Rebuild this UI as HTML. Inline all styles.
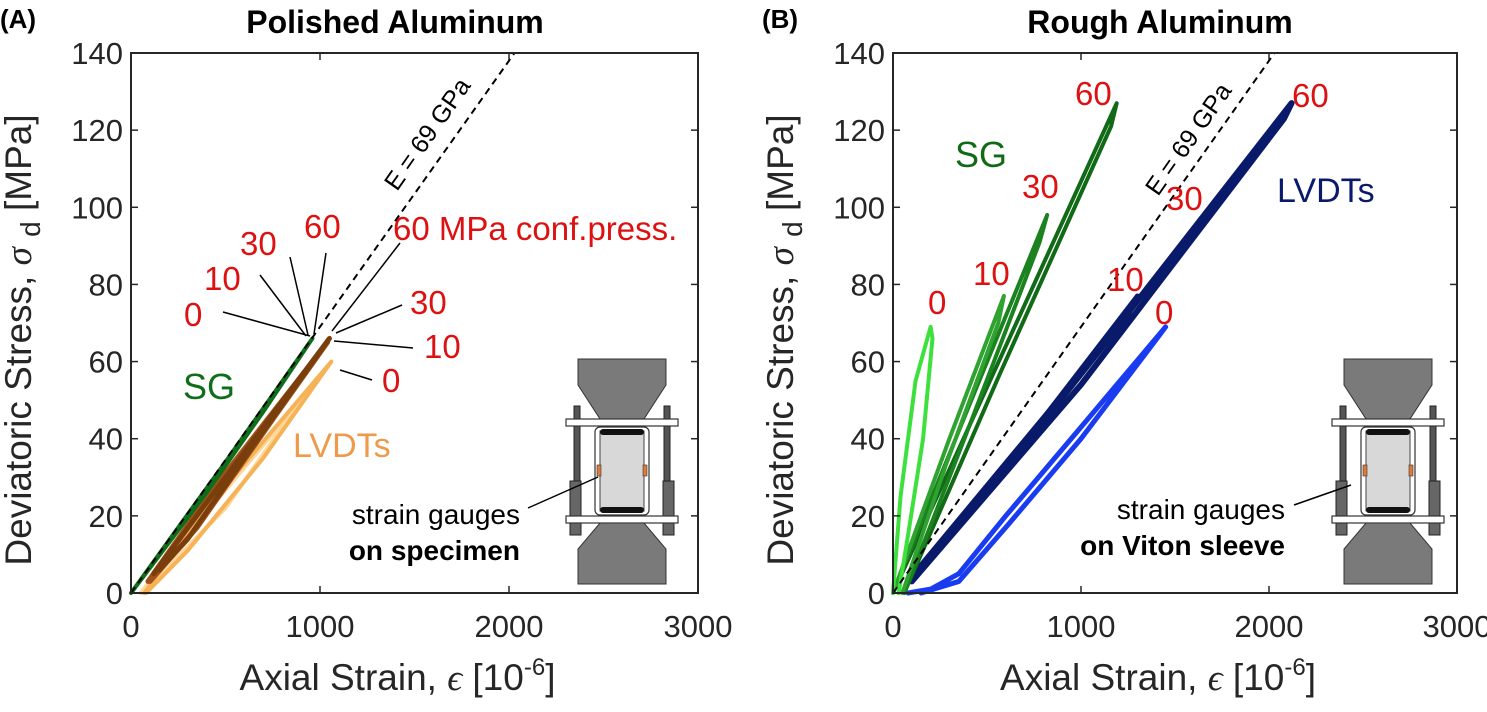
<!DOCTYPE html>
<html><head><meta charset="utf-8"><style>
body{margin:0;background:#fff}
svg{display:block;font-family:"Liberation Sans",Arial,sans-serif}
</style></head><body>
<svg id="fig" width="1487" height="712" viewBox="0 0 1487 712">
<defs>
<g id="rig">
<polygon points="12,0 100,0 100,26 78,60 34,60 12,26" fill="#7a7a7a" stroke="#333" stroke-width="1"/>
<rect x="8" y="47" width="6" height="125" fill="#555" stroke="#222"/>
<rect x="98" y="47" width="6" height="125" fill="#555" stroke="#222"/>
<rect x="4" y="122" width="11" height="54" fill="#666" stroke="#222"/>
<rect x="97" y="122" width="11" height="54" fill="#666" stroke="#222"/>
<rect x="0" y="60" width="112" height="7" fill="#fff" stroke="#333" stroke-width="1.2"/>
<rect x="0" y="157" width="112" height="7" fill="#fff" stroke="#333" stroke-width="1.2"/>
<rect x="29" y="68" width="54" height="88" rx="5" fill="#fff" stroke="#333" stroke-width="1.2"/>
<rect x="34" y="72" width="44" height="80" fill="#d8d8d8" stroke="#444"/>
<rect x="34" y="70" width="44" height="6" rx="3" fill="#111"/>
<rect x="34" y="148" width="44" height="6" rx="3" fill="#111"/>
<rect x="31" y="106" width="4" height="11" fill="#e07a3a" stroke="#333" stroke-width="0.6"/>
<rect x="77" y="106" width="4" height="11" fill="#e07a3a" stroke="#333" stroke-width="0.6"/>
<polygon points="34,164 78,164 100,190 100,225 12,225 12,190" fill="#7a7a7a" stroke="#333" stroke-width="1"/>
</g>
</defs>
<g id="pA"></g>
<g id="pB"></g>
</svg>
<script>
const xTicks=[0,1000,2000,3000];
const yTicks=[0,20,40,60,80,100,120,140];
const aSG=[[0,0],[250,17],[500,34],[960,66],[700,47],[400,26],[0,0]];
const aBrown1=[[120,5],[500,30],[1050,66],[700,42],[300,14],[150,6]];
const aBrown2=[[90,3],[450,28],[1040,65],[750,45],[350,17],[100,3]];
const aOrange1=[[70,0],[400,22],[1060,60],[700,35],[300,11],[80,0]];
const aOrange2=[[50,0],[350,18],[900,50],[500,22],[60,0]];
const bSG0=[[0,0],[40,25],[120,55],[200,69],[210,66],[160,40],[80,15],[30,0]];
const bSG10=[[0,0],[300,40],[590,77],[560,70],[280,33],[50,0]];
const bSG30=[[0,0],[400,48],[820,98],[780,91],[380,40],[60,0]];
const bSG60=[[0,0],[600,64],[1190,127],[1160,121],[570,57],[60,0]];
const bL10=[[80,3],[700,39],[1300,77],[1250,72],[650,35],[90,3]];
const bL60=[[80,3],[1000,57],[2120,127],[2080,123],[1000,54],[100,3]];
const bBlue=[[80,0],[200,1],[350,5],[600,20],[1000,43],[1450,69],[1420,67],[1000,40],[600,17],[350,3],[150,0]];
const eLine=[[0,0],[2029,140]];
const NS="http://www.w3.org/2000/svg";
function mk(p,t,a){const e=document.createElementNS(NS,t);for(const k in a)e.setAttribute(k,a[k]);p.appendChild(e);return e;}
function panel(g,x0,x1,y0,y1){
 const sx=v=>x0+(x1-x0)*v/3000, sy=v=>y0-(y0-y1)*v/140;
 return {sx,sy};
}
function axes(g,ax,x0,x1,y0,y1){
 const r=mk(g,'rect',{x:x0,y:y1,width:x1-x0,height:y0-y1,fill:'none',stroke:'#262626','stroke-width':2});
 
 
 xTicks.forEach(t=>{const x=ax.sx(t);
  mk(g,'line',{x1:x,y1:y0,x2:x,y2:y0-7,stroke:'#262626','stroke-width':1.5});
  mk(g,'line',{x1:x,y1:y1,x2:x,y2:y1+7,stroke:'#262626','stroke-width':1.5});
  const tx=mk(g,'text',{x:x,y:y0+44,'text-anchor':'middle','font-size':31,fill:'#262626'});tx.textContent=t;
  
  
 });
 yTicks.forEach(t=>{const y=ax.sy(t);
  mk(g,'line',{x1:x0,y1:y,x2:x0+7,y2:y,stroke:'#262626','stroke-width':1.5});
  mk(g,'line',{x1:x1,y1:y,x2:x1-7,y2:y,stroke:'#262626','stroke-width':1.5});
  const tx=mk(g,'text',{x:x0-8,y:y+11,'text-anchor':'end','font-size':31,fill:'#262626'});tx.textContent=t;
  
  
 });
}
function curve(g,ax,d,c,w,name){
 const p=mk(g,'polyline',{points:d.map(q=>ax.sx(q[0])+','+ax.sy(q[1])).join(' '),fill:'none',stroke:c,'stroke-width':w,'stroke-linejoin':'round','stroke-linecap':'round'});
 
 
}
function txt(g,x,y,s,o){const t=mk(g,'text',Object.assign({x:x,y:y,'font-size':33},o||{}));t.textContent=s;
 
 return t;}
function ln(g,a,b,c,d){mk(g,'line',{x1:a,y1:b,x2:c,y2:d,stroke:'#000','stroke-width':1.5});}
const RED='#dd1111';
function frame(g,x0,x1,cx,title,lab){
 txt(g,x0-131,28,lab,{'font-weight':'bold','font-size':26});
 txt(g,cx,33,title,{'font-weight':'bold','font-size':32,'text-anchor':'middle'});
 const yt=txt(g,0,0,'',{'font-size':37,fill:'#262626','text-anchor':'middle',transform:`translate(${x0-100},340) rotate(-90)`});
 yt.innerHTML='Deviatoric Stress, <tspan font-family="Liberation Serif" font-style="italic">σ</tspan> <tspan font-size="28" dy="9">d</tspan><tspan dy="-9"> [MPa]</tspan>';
 const xt=txt(g,(x0+x1)/2-17,690,'',{'font-size':37,fill:'#262626','text-anchor':'middle'});
 xt.innerHTML='Axial Strain, <tspan font-family="Liberation Serif" font-style="italic">ϵ</tspan> [10<tspan font-size="24" dy="-15">-6</tspan><tspan dy="15">]</tspan>';
}
// Panel A
(function(){
 const g=document.getElementById('pA');const x0=131,x1=698,y0=593,y1=53;
 const ax=panel(g,x0,x1,y0,y1);
 frame(g,x0,x1,395,'Polished Aluminum','(A)');
 curve(g,ax,aOrange2,'#ffd79a',4,'lvdt-0-light');
 curve(g,ax,aOrange1,'#f6b256',4,'lvdt-0');
 curve(g,ax,aBrown2,'#a0521a',5,'lvdt-10');
 curve(g,ax,aBrown1,'#7a3d0c',5,'lvdt-60');
 curve(g,ax,aSG,'#0f6e1a',4,'sg-curve');
 const e=mk(g,'polyline',{points:eLine.map(q=>ax.sx(q[0])+','+ax.sy(q[1])).join(' '),fill:'none',stroke:'#000','stroke-width':2,'stroke-dasharray':'7,5'});
 
 
 txt(g,0,0,'E = 69 GPa',{'font-size':25,transform:'translate(397,192) rotate(-55)'});
 txt(g,184,326,'0',{fill:RED});txt(g,204,290,'10',{fill:RED});txt(g,240,255,'30',{fill:RED});txt(g,304,238,'60',{fill:RED});
 txt(g,393,240,'60 MPa conf.press.',{fill:RED});txt(g,410,314,'30',{fill:RED});txt(g,424,358,'10',{fill:RED});txt(g,382,392,'0',{fill:RED});
 ln(g,223,312,310,336);ln(g,260,275,306,336);ln(g,290,257,308,335);ln(g,326,253,314,334);ln(g,400,243,332,331);ln(g,402,305,336,333);ln(g,413,348,334,341);ln(g,372,380,340,370);
 txt(g,183,399,'SG',{fill:'#0f6e1a','font-size':36});
 txt(g,293,457,'LVDTs',{fill:'#ee9a4a','font-size':34});
 mk(g,'use',{href:'#rig',x:566,y:359});
 ln(g,528,508,598,477);
 txt(g,520,524,'strain gauges',{'font-size':28,'text-anchor':'end'});
 txt(g,520,560,'on specimen',{'font-size':28,'text-anchor':'end','font-weight':'bold'});
 axes(g,ax,x0,x1,y0,y1);
})();
// Panel B
(function(){
 const g=document.getElementById('pB');const x0=893,x1=1457,y0=593,y1=53;
 const ax=panel(g,x0,x1,y0,y1);
 frame(g,x0,x1,1160,'Rough Aluminum','(B)');
 curve(g,ax,bBlue,'#1a3cf0',5,'lvdt-0');
 curve(g,ax,bL10,'#0a1a6a',5,'lvdt-10');
 curve(g,ax,bL60,'#0a1a6a',6,'lvdt-60');
 curve(g,ax,bSG60,'#106a16',4,'sg-60');
 curve(g,ax,bSG30,'#1a821e',4,'sg-30');
 curve(g,ax,bSG10,'#2fa230',4,'sg-10');
 curve(g,ax,bSG0,'#3de03d',4,'sg-0');
 const e=mk(g,'polyline',{points:eLine.map(q=>ax.sx(q[0])+','+ax.sy(q[1])).join(' '),fill:'none',stroke:'#000','stroke-width':2,'stroke-dasharray':'7,5'});
 
 
 txt(g,0,0,'E = 69 GPa',{'font-size':25,transform:'translate(1158,197) rotate(-55)'});
 txt(g,928,314,'0',{fill:RED});txt(g,973,285,'10',{fill:RED});txt(g,1022,198,'30',{fill:RED});txt(g,1075,105,'60',{fill:RED});
 txt(g,1107,291,'10',{fill:RED});txt(g,1166,210,'30',{fill:RED});txt(g,1292,107,'60',{fill:RED});txt(g,1155,324,'0',{fill:RED});
 txt(g,955,167,'SG',{fill:'#106a16','font-size':36});
 txt(g,1277,202,'LVDTs',{fill:'#0a1a6a','font-size':34});
 mk(g,'use',{href:'#rig',x:1332,y:359});
 ln(g,1294,505,1351,485);
 txt(g,1285,519,'strain gauges',{'font-size':28,'text-anchor':'end'});
 txt(g,1285,555,'on Viton sleeve',{'font-size':28,'text-anchor':'end','font-weight':'bold'});
 axes(g,ax,x0,x1,y0,y1);
})();
</script>
</body></html>
